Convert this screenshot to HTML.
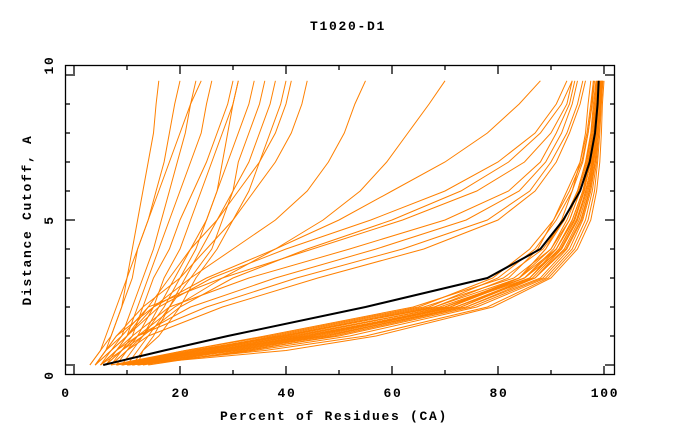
<!DOCTYPE html>
<html><head><meta charset="utf-8"><style>
body{margin:0;background:#fff;}
svg{display:block;font-family:"Liberation Mono",monospace;font-weight:bold;letter-spacing:1.7px;}
</style></head><body>
<svg id="c" width="680" height="440">
<text x="348" y="30" text-anchor="middle" font-size="13">T1020-D1</text>
<text x="334" y="420" text-anchor="middle" font-size="13">Percent of Residues (CA)</text>
<text transform="translate(31,220) rotate(-90)" text-anchor="middle" font-size="13">Distance Cutoff, A</text>
<defs><clipPath id="clip"><rect x="65" y="65" width="550" height="310"/></clipPath></defs>
<g id="series" clip-path="url(#clip)"></g>
<g id="axes"></g>
</svg>
<script>
const levels=[0,0.5,1,2,3,4,5,6,7,8,9,9.8];
const xTicks=[0,20,40,60,80,100];
const xMinor=[10,30,50,70,90];
const yTicks=[0,5,10];
const yMinor=[1,2,3,4,6,7,8,9];
const blackModel=[5.5,17,29,55,78,88,92.3,95.5,97.3,98.3,98.8,99];
const bundle=[
[8,21,36,64,81,88.5,92.5,95,96.5,97.5,98,98.5],
[9,23,38,66,83,90,93.5,95.5,97,98,98.5,99],
[10,24,40,68,84,91,94,96,97.5,98.2,98.7,99],
[8,23,39,67,80,87,91,94,96,97,97.8,98.2],
[11,26,42,70,85,92,95,96.5,97.8,98.5,99,99.3],
[9,25,41,70,86,91.5,94.5,96.3,97.4,98,98.6,99],
[12,28,45,72,87,92.5,95.3,97,98,98.6,99,99.5],
[7,21,37,65,79,86,90.5,93.5,95.8,97,97.7,98],
[10,27,43,72,87,92.8,95.6,97.2,98.1,98.8,99.2,99.5],
[13,30,47,74,88,93,95.8,97.3,98.3,98.8,99.2,99.6],
[9,26,44,71,85,90.5,93.5,95.5,97,97.8,98.4,98.8],
[11,29,46,72,86,91,94,96,97.2,98,98.5,99],
[8,24,42,70,84,90,93,95.2,96.8,97.6,98.2,98.6],
[14,32,50,75,88.5,93.5,96,97.5,98.4,99,99.3,99.7],
[10,31,48,73,86.5,91.8,94.8,96.6,97.7,98.4,98.9,99.2],
[12,34,52,76,89,94,96.5,97.8,98.6,99,99.4,99.7],
[10,36,55,78,89.5,94.5,97,98.2,98.8,99.2,99.5,99.8],
[9,23,40,68,82,87.5,90.5,93,95.5,96.8,97.5,98],
[11,27,44,71,84,89,92,94,95.5,96.5,97,97.5],
[8,22,39,69,85,91,94.3,96.2,97.5,98.3,98.8,99.2],
[10,40,57,79,90,95,97.5,98.6,99.2,99.5,99.7,100],
[12,33,49,74,87,92,95,96.8,97.9,98.6,99,99.4],
[9,28,45,71,84,89,92.5,95,96.6,97.6,98.2,98.7],
[11,30,47,73,86,91.5,94.5,96.2,97.4,98.2,98.7,99.1]
];
const middle=[
[4,6,9,14,28,45,62,76,85,90,93,94],
[5,8,11,18,33,52,70,82,88,91,93.5,94.5],
[6,9,12,22,38,57,74,84,89,92,94,95],
[5,8,12,25,42,62,78,86,90,93,95,96],
[7,10,14,28,46,66,80,87,91,93.5,95.5,96.5],
[4,7,10,16,26,40,56,70,80,87,91,93],
[6,9,13,20,30,44,60,73,82,88,92,94],
[4,6,8,15,25,38,50,60,70,78,84,88]
];
const upper=[
[5,9,12,19,28,38,47,54,59,63,67,70],
[4,7,10,15,22,30,38,44,48,51,53,55],
[4,6,8,13,20,25,30,34,38,41,43,44],
[5,8,10,14,18,22,27,31,35,38,40,41]
];
const steep=[
[4,6,7,9,10,11,12,13,14,15,15.5,16],
[3,5,7,9,11,12,14,15.5,17,18,19,20],
[5,7,9,11,13,15,16.5,18,19.5,21,22,23],
[6,8,10,12,14,16,18,20,22,24,25,26],
[7,9,11,13,15,18,20,22.5,25,27,29,30],
[8,10,12,15,17,20,22,24,26,28,30,31],
[9,11,13,16,19,22,25,27,29,31,33,34],
[10,12,14,18,21,24,27,30,33,35,37,38],
[11,13,16,20,23,27,30,33,35,37,39,40],
[3,5,6,8,10,12,14,16,18,20,22,24],
[12,13,15,18,22,26,28,30,31,33,35,36],
[7,10,13,17,20,23,25,27,28,29,30,31]
];
const NS='http://www.w3.org/2000/svg';
function xs(v){return 74+5.3*v;}
function ys(v){return 365-29*v;}
function xlab(v){return v===0?65:xs(v);}
function ylab(v){return 375-31*v;}
const g=document.getElementById('series');
function line(vals,color,w,name){
  const p=document.createElementNS(NS,'polyline');
  p.setAttribute('points',vals.map((x,i)=>xs(x).toFixed(1)+','+ys(levels[i]).toFixed(1)).join(' '));
  p.setAttribute('fill','none');p.setAttribute('stroke',color);p.setAttribute('stroke-width',w);
  
  
  g.appendChild(p);
}
[...bundle,...middle,...upper,...steep].forEach((c,i)=>line(c,'#ff8000',1,'model-curve'));
line(blackModel,'#000',2,'highlight-model-curve');
const a=document.getElementById('axes');
function el(tag,attrs,name,txt){
  const e=document.createElementNS(NS,tag);
  for(const k in attrs)e.setAttribute(k,attrs[k]);
  
  
  if(txt!==undefined)e.textContent=txt;
  a.appendChild(e);return e;
}
el('rect',{x:65.5,y:65.5,width:549,height:309,fill:'none',stroke:'#000','stroke-width':1.3},'plot-frame');
xTicks.forEach(v=>{
  el('line',{x1:xs(v),x2:xs(v),y1:375,y2:366,stroke:'#000','stroke-width':1.3},'x-tick');
  el('line',{x1:xs(v),x2:xs(v),y1:65,y2:74,stroke:'#000','stroke-width':1.3},'x-tick-top');
  el('text',{x:xlab(v)+1,y:397,'text-anchor':'middle','font-size':13},'x-tick-label',String(v));
});
xMinor.forEach(v=>{
  el('line',{x1:xs(v),x2:xs(v),y1:375,y2:370,stroke:'#000','stroke-width':1.3},'x-minor-tick');
  el('line',{x1:xs(v),x2:xs(v),y1:65,y2:70,stroke:'#000','stroke-width':1.3},'x-minor-tick-top');
});
yTicks.forEach(v=>{
  el('line',{x1:65,x2:75,y1:ys(v),y2:ys(v),stroke:'#000','stroke-width':1.3},'y-tick');
  el('line',{x1:615,x2:605,y1:ys(v),y2:ys(v),stroke:'#000','stroke-width':1.3},'y-tick-right');
  el('text',{transform:'translate(53,'+ylab(v)+') rotate(-90)','text-anchor':'middle','font-size':13},'y-tick-label',String(v));
});
yMinor.forEach(v=>{
  el('line',{x1:65,x2:70,y1:ys(v),y2:ys(v),stroke:'#000','stroke-width':1.3},'y-minor-tick');
  el('line',{x1:615,x2:610,y1:ys(v),y2:ys(v),stroke:'#000','stroke-width':1.3},'y-minor-tick-right');
});
</script>
</body></html>
